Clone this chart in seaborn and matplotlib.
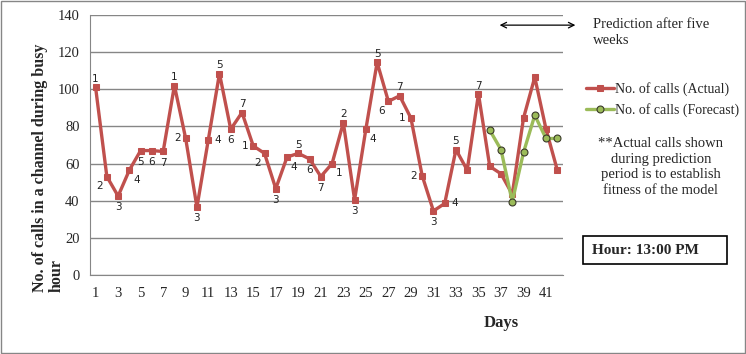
import matplotlib
matplotlib.use("Agg")
import matplotlib.pyplot as plt
import matplotlib.patches as mpatches
import seaborn as sns
import pandas as pd

# ---------------------------------------------------------------------------
# data
# ---------------------------------------------------------------------------
days = list(range(1, 43))
actual_calls = [101, 53, 42.5, 56.5, 67, 67, 66.5, 102, 73.5, 36.5,
                72.5, 108.5, 78.5, 87.5, 69.5, 65.5, 46.5, 63.5, 65.5, 62.5,
                53, 60, 82, 40.5, 78.5, 114.5, 93.5, 96.5, 84.5, 53.5,
                34.5, 38.5, 67.5, 56.5, 97.5, 58.5, 54.5, 43.5, 84.5, 106.5,
                78.5, 56.5]
forecast_days = [36, 37, 38, 39, 40, 41, 42]
forecast_calls = [78, 67.5, 39.5, 66, 86, 73.5, 73.5]

# weekday number shown next to each actual point (day 34 has none)
weekday_labels = ["1", "2", "3", "4", "5", "6", "7",
                  "1", "2", "3", "4", "5", "6", "7",
                  "1", "2", "3", "4", "5", "6", "7",
                  "1", "2", "3", "4", "5", "6", "7",
                  "1", "2", "3", "4", "5", "", "7"]
label_place = ["a", "bl", "b", "br", "b", "b", "b",
               "a", "l", "b", "r", "a", "b", "a",
               "l", "bl", "b", "br", "a", "b", "b",
               "br", "a", "b", "br", "a", "bl", "a",
               "l", "l", "b", "r", "a", "", "a"]
offsets = {"a": (0, 6), "b": (0, -8), "l": (-6, 0), "r": (7, 0),
           "bl": (-5, -7), "br": (5, -7)}

red = "#C0504D"
green = "#9BBB59"
serif = ["Liberation Serif", "DejaVu Serif"]

sns.set_style("white")
plt.rcParams["font.family"] = serif

fig = plt.figure(figsize=(7.46, 3.54), dpi=100)
ax = fig.add_axes([0.1206, 0.2232, 0.634, 0.7344])

df_act = pd.DataFrame({"day": days, "calls": actual_calls})
df_fc = pd.DataFrame({"day": forecast_days, "calls": forecast_calls})

sns.lineplot(data=df_act, x="day", y="calls", ax=ax, color=red, lw=2.4,
             marker="s", markersize=5, markeredgecolor=red,
             label="No. of calls (Actual)")
sns.lineplot(data=df_fc, x="day", y="calls", ax=ax, color=green, lw=2.4,
             marker="o", markersize=5, markerfacecolor=green,
             markeredgecolor="#3a3a2a", markeredgewidth=0.8,
             label="No. of calls (Forecast)")

for d, v, lab, pl in zip(days, actual_calls, weekday_labels, label_place):
    if not lab:
        continue
    ax.annotate(lab, (d, v), xytext=offsets[pl], textcoords="offset points",
                ha="center", va="center", fontsize=7.5, family="DejaVu Sans",
                color="#222222")

ax.set_xlim(0.5, 42.5)
ax.set_ylim(0, 140)
ax.set_yticks(range(0, 141, 20))
ax.set_xticks(range(1, 42, 2))
ax.set_xticks([d + 0.5 for d in range(0, 43)], minor=True)
ax.tick_params(axis="x", which="major", length=0, labelsize=10.5, pad=9)
ax.tick_params(axis="x", which="minor", length=4, color="#868686", direction="out")
ax.tick_params(axis="y", length=4, color="#868686", direction="out", labelsize=10.5)
ax.yaxis.grid(True, color="#868686", lw=1)
ax.set_axisbelow(True)
for s in ["top", "right"]:
    ax.spines[s].set_visible(False)
for s in ["left", "bottom"]:
    ax.spines[s].set_color("#868686")
ax.set_xlabel("")
ax.set_ylabel("")

fig.text(0.672, 0.088, "Days", fontsize=12, fontweight="bold", ha="center", va="center")
# y label drawn as two lines, both starting at the bottom like the original
fig.text(40 / 746, 0.175, "No. of calls in a channel during busy", rotation=90,
         fontsize=11.5, fontweight="bold", ha="center", va="bottom")
fig.text(57 / 746, 0.175, "hour", rotation=90,
         fontsize=11.5, fontweight="bold", ha="center", va="bottom")

ax.legend(loc="upper left", bbox_to_anchor=(0.778, 0.785), bbox_transform=fig.transFigure,
          frameon=False, fontsize=10, handlelength=2.0, handletextpad=0.1,
          labelspacing=0.55, borderaxespad=0)

fig.text(0.795, 0.95, "Prediction after five\nweeks", fontsize=10.5, ha="left", va="top",
         linespacing=1.3)
ax.annotate("", xy=(0.775, 0.929), xytext=(0.666, 0.929), xycoords="figure fraction",
            arrowprops=dict(arrowstyle="<->", color="black", lw=0.9))

fig.text(0.886, 0.528, "**Actual calls shown\nduring prediction\nperiod is to establish\nfitness of the model",
         fontsize=10.5, ha="center", va="center", linespacing=1.25)

fig.patches.append(mpatches.Rectangle((583 / 746, 1 - 264 / 354), 144 / 746, 28 / 354,
                                      transform=fig.transFigure, fill=False,
                                      edgecolor="black", lw=1.2))
fig.text(592 / 746, 1 - 250 / 354, "Hour: 13:00 PM", fontsize=11, fontweight="bold",
         ha="left", va="center")

fig.patches.append(mpatches.Rectangle((0.001, 0.002), 0.997, 0.995, transform=fig.transFigure,
                                      fill=False, edgecolor="#868686", lw=1))

fig.savefig("out.png", dpi=100)
